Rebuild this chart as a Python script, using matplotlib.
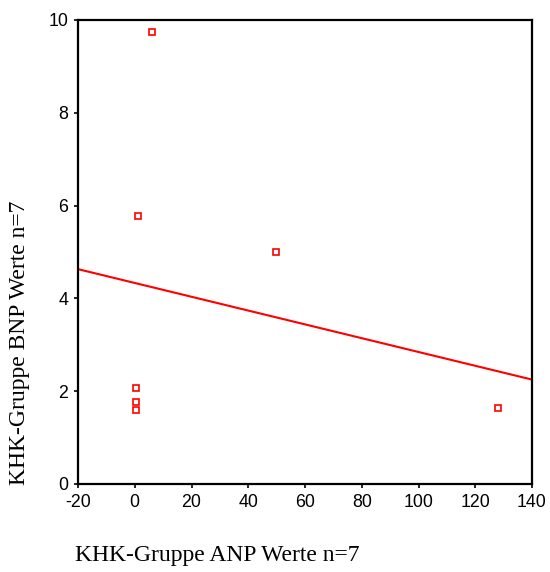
import numpy as np
import matplotlib
matplotlib.use("Agg")
import matplotlib.pyplot as plt

plt.rcParams['axes.unicode_minus'] = False

anp = [6.1, 1.1, 49.8, 0.4, 0.4, 0.4, 128.0]
bnp = [9.74, 5.78, 5.0, 2.06, 1.76, 1.59, 1.63]
xticks = [-20, 0, 20, 40, 60, 80, 100, 120, 140]
yticks = [0, 2, 4, 6, 8, 10]

fig = plt.figure(figsize=(5.5, 5.72), dpi=100)
ax = fig.add_axes([78/550, 1-484/572, (532-78)/550, (484-20)/572])

ax.plot(anp, bnp, linestyle='none', marker='s', markersize=4.2,
        markerfacecolor='white', markeredgecolor='red', markeredgewidth=1.2, zorder=3)

slope, intercept = np.polyfit(anp, bnp, 1)
xl = np.array([xticks[0], xticks[-1]])
ax.plot(xl, intercept + slope*xl, color='red', linewidth=1.5, zorder=2)

ax.set_xlim(xticks[0], xticks[-1])
ax.set_ylim(yticks[0], yticks[-1])
ax.set_xticks(xticks)
ax.set_yticks(yticks)
for s in ax.spines.values():
    s.set_linewidth(1.6)
ax.tick_params(direction='out', length=3, width=1.2, labelsize=12.8, pad=4)
for lab in ax.get_xticklabels() + ax.get_yticklabels():
    lab.set_fontfamily('Liberation Sans')

fig.text(20/550, 1-343/572, 'KHK-Gruppe BNP Werte n=7', rotation=90,
         ha='center', va='center', family='Liberation Serif', fontsize=17)
fig.text(75/550, 1-555/572, 'KHK-Gruppe ANP Werte n=7',
         ha='left', va='center', family='Liberation Serif', fontsize=17)

fig.savefig('out.png', dpi=100)
